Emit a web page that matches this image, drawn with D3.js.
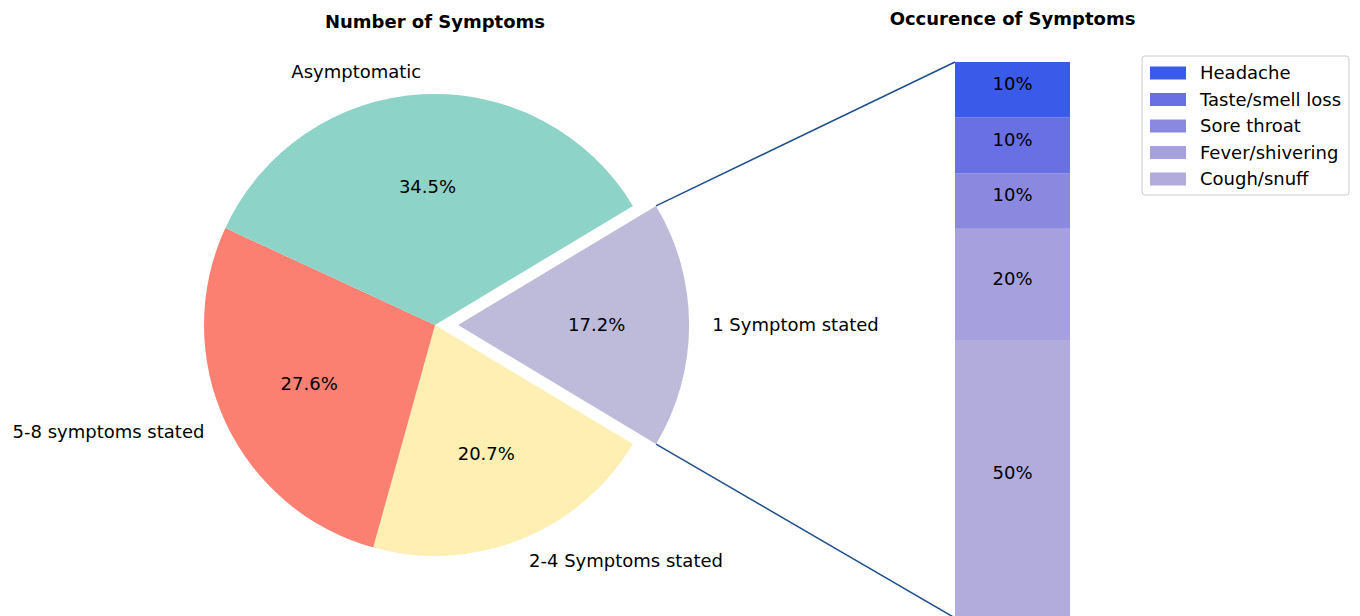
<!DOCTYPE html>
<html>
<head>
<meta charset="utf-8">
<script src="https://cdn.jsdelivr.net/npm/d3@7"></script>
<style>
  body { margin: 0; background: #fff; }
  text { font-family: "DejaVu Sans", sans-serif; fill: #000; }
</style>
</head>
<body>
<div id="chart"></div>
<script>
// pie data (clockwise from the exploded slice)
const pieLabels = ["1 Symptom stated", "2-4 Symptoms stated", "5-8 symptoms stated", "Asymptomatic"];
const pieCounts = [5, 6, 8, 10];
const pieColors = ["#bebada", "#ffefb3", "#fb8072", "#8dd3c7"];

// bar data (bottom to top)
const barLabels = ["Cough/snuff", "Fever/shivering", "Sore throat", "Taste/smell loss", "Headache"];
const barShares = [0.5, 0.2, 0.1, 0.1, 0.1];
const barColors = ["#b2acdd", "#a6a1de", "#8b89df", "#6870e4", "#3a5ae9"];

const width = 1360, height = 616;
const svg = d3.select("#chart").append("svg")
    .attr("width", width)
    .attr("height", height);

// ---- pie ----
const cx = 435, cy = 325, r = 231;
const total = d3.sum(pieCounts);
const start = Math.PI / 2 - Math.PI * pieCounts[0] / total;

const pie = d3.pie().sort(null)
    .startAngle(start)
    .endAngle(start + 2 * Math.PI);
const arcs = pie(pieCounts);
const arc = d3.arc().innerRadius(0).outerRadius(r);

const pieG = svg.append("g").attr("transform", `translate(${cx},${cy})`);

function offset(d, i) {
    if (i !== 0) return [0, 0];
    const mid = (d.startAngle + d.endAngle) / 2;
    return [Math.sin(mid) * 0.1 * r, -Math.cos(mid) * 0.1 * r];
}

const slices = pieG.selectAll(".slice")
    .data(arcs)
    .enter()
    .append("g")
    .attr("class", "slice")
    .attr("transform", (d, i) => { const o = offset(d, i); return `translate(${o[0]},${o[1]})`; });

slices.append("path")
    .attr("d", arc)
    .style("fill", (d, i) => pieColors[i]);

// percent labels
slices.append("text")
    .attr("transform", d => {
        const mid = (d.startAngle + d.endAngle) / 2;
        return `translate(${Math.sin(mid) * 0.6 * r},${-Math.cos(mid) * 0.6 * r})`;
    })
    .attr("text-anchor", "middle")
    .attr("dy", "0.35em")
    .style("font-size", "18px")
    .text(d => (d.value / total * 100).toFixed(1) + "%");

// category labels
slices.append("text")
    .attr("transform", d => {
        const mid = (d.startAngle + d.endAngle) / 2;
        return `translate(${Math.sin(mid) * 1.1 * r},${-Math.cos(mid) * 1.1 * r})`;
    })
    .attr("text-anchor", d => Math.sin((d.startAngle + d.endAngle) / 2) < 0 ? "end" : "start")
    .attr("dy", "0.35em")
    .style("font-size", "18px")
    .text((d, i) => pieLabels[i]);

svg.append("text")
    .attr("x", cx)
    .attr("y", 28)
    .attr("text-anchor", "middle")
    .style("font-size", "18px")
    .style("font-weight", "bold")
    .text("Number of Symptoms");

// ---- bar ----
const barX = 955, barW = 115;
const y = d3.scaleLinear().domain([0, 1]).range([618, 62]);
const cum = d3.cumsum(barShares);
const barData = barShares.map((v, i) => ({ label: barLabels[i], v, y0: cum[i] - v, y1: cum[i], color: barColors[i] }));

const barG = svg.append("g");
barG.selectAll(".seg")
    .data(barData)
    .enter()
    .append("rect")
    .attr("class", "seg")
    .attr("x", barX)
    .attr("y", d => y(d.y1))
    .attr("width", barW)
    .attr("height", d => y(d.y0) - y(d.y1))
    .style("fill", d => d.color);

// labels sit a little above the segment middle, as in the original
barG.selectAll(".seglabel")
    .data(barData)
    .enter()
    .append("text")
    .attr("x", barX + barW / 2)
    .attr("y", d => y((d.y0 + d.y1) / 2) - 6)
    .attr("dy", "0.35em")
    .attr("text-anchor", "middle")
    .style("font-size", "18px")
    .text(d => Math.round(d.v * 100) + "%");

svg.append("text")
    .attr("x", barX + barW / 2)
    .attr("y", 25)
    .attr("text-anchor", "middle")
    .style("font-size", "18px")
    .style("font-weight", "bold")
    .text("Occurence of Symptoms");

// ---- connecting lines ----
const first = arcs[0];
const o = offset(first, 0);
[[first.startAngle, 1], [first.endAngle, 0]].forEach(([a, top]) => {
    const px = cx + o[0] + Math.sin(a) * r;
    const py = cy + o[1] - Math.cos(a) * r;
    svg.append("line")
        .attr("x1", px).attr("y1", py)
        .attr("x2", barX).attr("y2", y(top))
        .style("stroke", "#1f4e8a")
        .style("stroke-width", 1.5);
});

// ---- legend ----
const legend = svg.append("g").attr("transform", "translate(1142,56)");
legend.append("rect")
    .attr("width", 207)
    .attr("height", 139)
    .attr("rx", 3)
    .style("fill", "#fff")
    .style("stroke", "#ccc");

const legendItems = barData.slice().reverse();
const li = legend.selectAll(".item")
    .data(legendItems)
    .enter()
    .append("g")
    .attr("transform", (d, i) => `translate(0,${17 + i * 26.5})`);
li.append("rect")
    .attr("x", 8).attr("y", -6.5)
    .attr("width", 36).attr("height", 13)
    .style("fill", d => d.color);
li.append("text")
    .attr("x", 58)
    .attr("dy", "0.35em")
    .style("font-size", "18px")
    .text(d => d.label);
</script>
</body>
</html>
